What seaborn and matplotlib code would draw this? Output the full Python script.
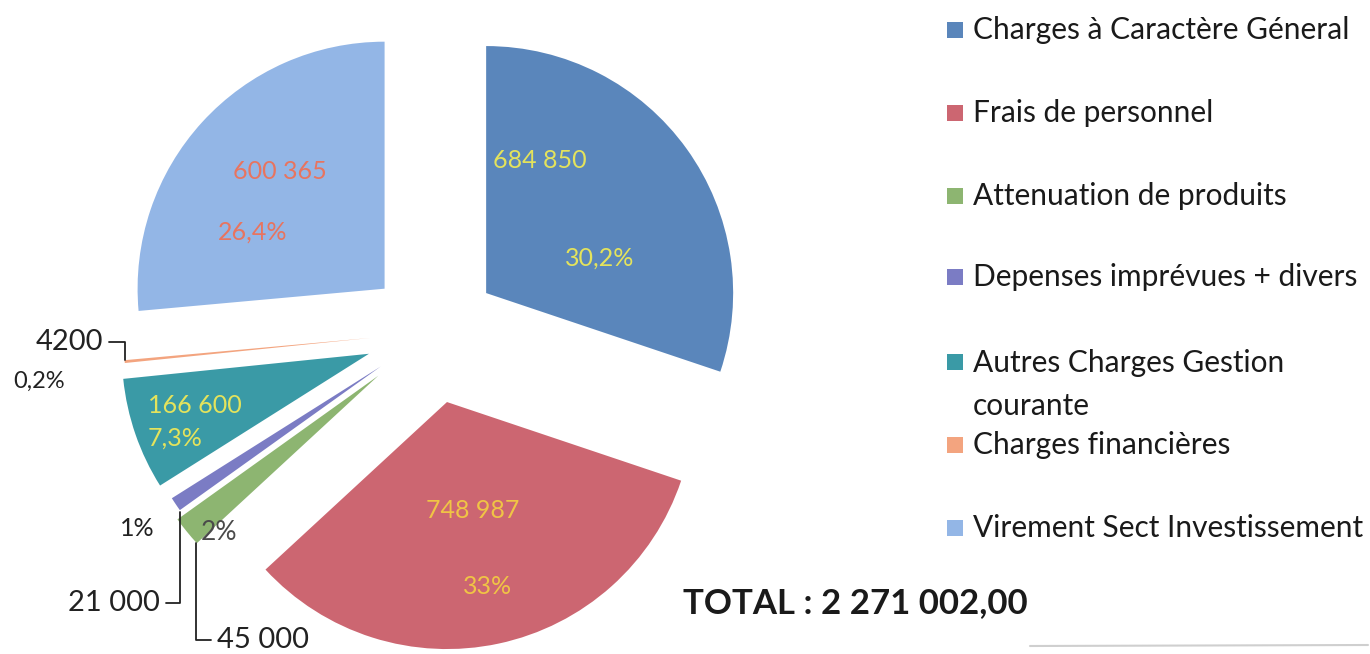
import numpy as np
import matplotlib.pyplot as plt
import seaborn as sns
from matplotlib.patches import Rectangle
from matplotlib.lines import Line2D

# --- data ---
categories = [
    "Charges à Caractère Géneral",
    "Frais de personnel",
    "Attenuation de produits",
    "Depenses imprévues + divers",
    "Autres Charges Gestion\ncourante",
    "Charges financières",
    "Virement Sect Investissement",
]
amounts = [684850, 748987, 45000, 21000, 166600, 4200, 600365]
amount_labels = ["684 850", "748 987", "45 000", "21 000", "166 600", "4200", "600 365"]
pct_labels = ["30,2%", "33%", "2%", "1%", "7,3%", "0,2%", "26,4%"]
total_label = "TOTAL : 2 271 002,00"

colors = ["#5a86bb", "#cc6671", "#8db571", "#7b7cc4", "#3a9aa6", "#f3a47f", "#93b6e6"]
explode = [0.27, 0.29, 0.28, 0.25, 0.27, 0.25, 0.26]

sns.set_theme(style="white")
plt.rcParams["font.family"] = ["Lato", "DejaVu Sans"]

fig = plt.figure(figsize=(13.7, 6.54), dpi=100)
ax = fig.add_axes([0, 0, 1, 1])

wedges, _ = ax.pie(amounts, colors=colors, explode=explode, startangle=90,
                   counterclock=False, radius=1.0,
                   wedgeprops=dict(linewidth=0))

# pixel-matched limits: center at (432, 332) px, radius 247 px
ax.set_xlim(-432 / 247, (1370 - 432) / 247)
ax.set_ylim(-(654 - 332) / 247, 332 / 247)
ax.set_aspect("auto")
ax.axis("off")

yellow = "#e4e35c"
gold = "#f0c445"
salmon = "#e8745f"

# labels inside the big slices
inside = {
    0: [((0.437, 0.696), yellow, "center"), ((0.680, 0.300), yellow, "center")],
    1: [((0.166, -0.721), gold, "center"), ((0.223, -1.032), gold, "center")],
    6: [((-0.615, 0.648), salmon, "center"), ((-0.725, 0.405), salmon, "center")],
    4: [((-1.150, -0.296), yellow, "left"), ((-1.150, -0.429), yellow, "left")],
}
for i, spots in inside.items():
    for (pos, col, ha), txt in zip(spots, [amount_labels[i], pct_labels[i]]):
        ax.text(pos[0], pos[1], txt, color=col, fontsize=18, ha=ha, va="center")

# small slices: outside labels with leader lines
def tip(w, frac=0.5):
    th = np.deg2rad(w.theta1 + frac * (w.theta2 - w.theta1))
    cx, cy = w.center
    return cx + w.r * np.cos(th), cy + w.r * np.sin(th)

ink = "#222222"
line_kw = dict(arrowstyle="-", color=ink, lw=1.3, shrinkA=2, shrinkB=1,
               connectionstyle="angle,angleA=0,angleB=90,rad=0")

# Charges financières
ax.annotate(amount_labels[5], xy=tip(wedges[5]), xytext=(-1.332, -0.040),
            ha="right", va="center", fontsize=21, color=ink, arrowprops=line_kw)
ax.text(-1.696, -0.198, pct_labels[5], ha="left", va="center", fontsize=17, color=ink)

# Depenses imprévues
ax.annotate(amount_labels[3], xy=tip(wedges[3], 1.0), xytext=(-1.101, -1.097),
            ha="right", va="center", fontsize=21, color=ink, arrowprops=line_kw)
ax.text(-1.194, -0.797, pct_labels[3], ha="center", va="center", fontsize=18, color=ink)

# Attenuation de produits
ax.annotate(amount_labels[2], xy=tip(wedges[2], 0.95), xytext=(-0.870, -1.247),
            ha="left", va="center", fontsize=21, color=ink, arrowprops=line_kw)
ax.text(-0.862, -0.810, pct_labels[2], ha="center", va="center", fontsize=19, color="#4a4a4a")

# --- legend (Excel-like layout) ---
W, H = 1370, 654
legend_rows = [30, 113, 196, 277, 362, 445, 528]
for lab, col, yc in zip(categories, colors, legend_rows):
    fig.add_artist(Rectangle((947 / W, 1 - (yc + 8) / H), 16 / W, 16 / H,
                             transform=fig.transFigure, color=col, lw=0))
    if "\n" in lab:
        fig.text(973 / W, 1 - (yc - 13) / H, lab, ha="left", va="top",
                 fontsize=21.5, color="#1a1a1a", linespacing=1.67)
    else:
        fig.text(973 / W, 1 - yc / H, lab, ha="left", va="center",
                 fontsize=21.5, color="#1a1a1a")

fig.text(683 / W, 1 - 603 / H, total_label, ha="left", va="center",
         fontsize=25, fontweight="bold", color="#1a1a1a")

# faint scan line at the bottom right
fig.add_artist(Line2D([1030 / W, 1 - 2 / W], [1 - 646 / H, 1 - 645 / H],
                      transform=fig.transFigure, color="#bbbbbb", lw=1.5, alpha=0.7))

fig.savefig("out.png", dpi=100, facecolor="white")
